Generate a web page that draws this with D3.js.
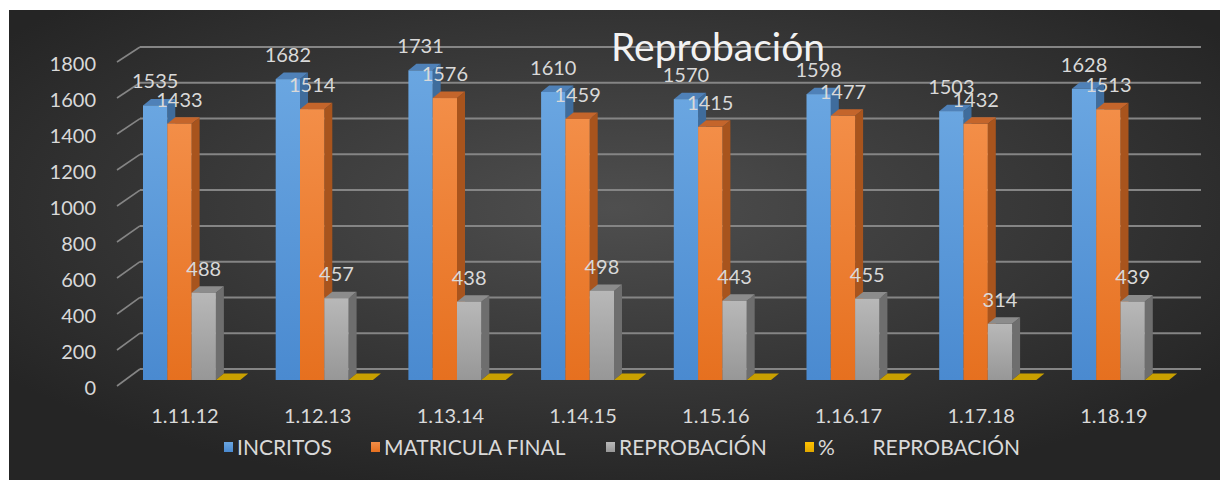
<!DOCTYPE html>
<html>
<head>
<meta charset="utf-8">
<script src="https://cdn.jsdelivr.net/npm/d3@7"></script>
<style>
  body { margin: 0; background: #fff; }
  svg { display: block; }
  text { font-family: Lato, "Open Sans", sans-serif; }
</style>
</head>
<body>
<svg id="chart"></svg>
<script>
const categories = ['1.11.12', '1.12.13', '1.13.14', '1.14.15', '1.15.16', '1.16.17', '1.17.18', '1.18.19'];
const inscritos = [1535, 1682, 1731, 1610, 1570, 1598, 1503, 1628];
const matricula = [1433, 1514, 1576, 1459, 1415, 1477, 1432, 1513];
const reprobacion = [488, 457, 438, 498, 443, 455, 314, 439];
const porcentaje = [0.32, 0.27, 0.25, 0.31, 0.28, 0.28, 0.21, 0.27];
const seriesNames = ['INCRITOS', 'MATRICULA FINAL', 'REPROBACIÓN', '%       REPROBACIÓN'];
const yTicks = [0, 200, 400, 600, 800, 1000, 1200, 1400, 1600, 1800];

const W = 1220, H = 480;
const series = [
  {name: seriesNames[0], values: inscritos, front: ['#6aa6e1', '#4a8ad0'], top: '#4f81b8', side: '#3f6c9c', label: true},
  {name: seriesNames[1], values: matricula, front: ['#f38e48', '#e6701f'], top: '#c4652b', side: '#a8541d', label: true},
  {name: seriesNames[2], values: reprobacion, front: ['#b8b8b8', '#979797'], top: '#8c8c8c', side: '#6e6e6e', label: true},
  {name: seriesNames[3], values: porcentaje, front: ['#ffc000', '#e0a800'], top: '#c9a000', side: '#9c7a00', label: false}
];

const svg = d3.select('#chart').attr('width', W).attr('height', H);
const defs = svg.append('defs');

const bg = defs.append('radialGradient').attr('id', 'bg')
  .attr('cx', '50%').attr('cy', '42%').attr('r', '62%');
bg.append('stop').attr('offset', '0%').attr('stop-color', '#4f4f4f');
bg.append('stop').attr('offset', '100%').attr('stop-color', '#252525');

series.forEach((s, i) => {
  const g = defs.append('linearGradient').attr('id', 'fg' + i)
    .attr('x1', 0).attr('y1', 0).attr('x2', 0).attr('y2', 1);
  g.append('stop').attr('offset', '0%').attr('stop-color', s.front[0]);
  g.append('stop').attr('offset', '100%').attr('stop-color', s.front[1]);
});

svg.append('rect').attr('x', 9).attr('y', 10).attr('width', W - 9).attr('height', H - 10)
  .attr('fill', 'url(#bg)');

// scales
const y = d3.scaleLinear().domain([0, 1800]).range([380, 58]);       // bars
const yBack = d3.scaleLinear().domain([0, 1800]).range([369, 47]);   // back wall
const yFront = d3.scaleLinear().domain([0, 1800]).range([386, 62]);  // side ticks
const x = d3.scaleBand().domain(categories).range([120, 120 + 8 * 132.7]);
const xs = d3.scaleBand().domain(d3.range(series.length)).range([23, 23 + 4 * 24.3]);

const dx = 8, dy = -6.5;

// grid
const grid = svg.append('g');
grid.selectAll('line.back').data(yTicks).join('line')
  .attr('x1', 140).attr('x2', 1201)
  .attr('y1', d => yBack(d)).attr('y2', d => yBack(d))
  .attr('stroke', '#858585').attr('stroke-width', 2);
grid.selectAll('line.side').data(yTicks).join('line')
  .attr('x1', 117).attr('x2', 140)
  .attr('y1', d => yFront(d)).attr('y2', d => yBack(d))
  .attr('stroke', '#858585').attr('stroke-width', 1.6);

svg.append('g').selectAll('text').data(yTicks).join('text')
  .attr('x', 96).attr('y', d => yFront(d) + 1)
  .attr('text-anchor', 'end').attr('dominant-baseline', 'central')
  .attr('font-size', 20).attr('fill', '#d9d9d9')
  .text(d => d);

// bars
const bars = svg.append('g');
categories.forEach((c, ci) => {
  series.forEach((s, si) => {
    const v = s.values[ci];
    const x0 = x(c) + xs(si), w = xs.bandwidth();
    const top = y(v), bot = y(0);
    const g = bars.append('g');
    g.append('polygon')
      .attr('points', [[x0 + w, top], [x0 + w + dx, top + dy], [x0 + w + dx, bot + dy], [x0 + w, bot]].join(' '))
      .attr('fill', s.side);
    g.append('polygon')
      .attr('points', [[x0, top], [x0 + w, top], [x0 + w + dx, top + dy], [x0 + dx, top + dy]].join(' '))
      .attr('fill', s.top);
    if (bot - top > 0.5) {
      g.append('rect').attr('x', x0).attr('y', top).attr('width', w).attr('height', bot - top)
        .attr('fill', `url(#fg${si})`);
    }
  });
});

// data labels
const labels = svg.append('g');
categories.forEach((c, ci) => {
  series.forEach((s, si) => {
    if (!s.label) return;
    labels.append('text')
      .attr('x', x(c) + xs(si) + xs.bandwidth() / 2)
      .attr('y', y(s.values[ci]) - 25)
      .attr('text-anchor', 'middle').attr('dominant-baseline', 'central')
      .attr('font-size', 20).attr('fill', '#d9d9d9')
      .text(s.values[ci]);
  });
});

// category axis
svg.append('g').selectAll('text').data(categories).join('text')
  .attr('x', d => x(d) + 65).attr('y', 423)
  .attr('text-anchor', 'middle')
  .attr('font-size', 20).attr('fill', '#d9d9d9')
  .text(d => d);

// title
svg.append('text').attr('x', 718).attr('y', 61)
  .attr('text-anchor', 'middle').attr('font-size', 39).attr('fill', '#f2f2f2')
  .text('Reprobación');

// legend
const legendX = [224, 371, 606, 805];
const legend = svg.append('g');
series.forEach((s, i) => {
  legend.append('rect').attr('x', legendX[i]).attr('y', 442).attr('width', 9).attr('height', 10)
    .attr('fill', `url(#fg${i})`);
  legend.append('text').attr('x', legendX[i] + 13).attr('y', 455)
    .attr('font-size', 21).attr('fill', '#d9d9d9')
    .attr('xml:space', 'preserve').style('white-space', 'pre')
    .text(s.name);
});
</script>
</body>
</html>
